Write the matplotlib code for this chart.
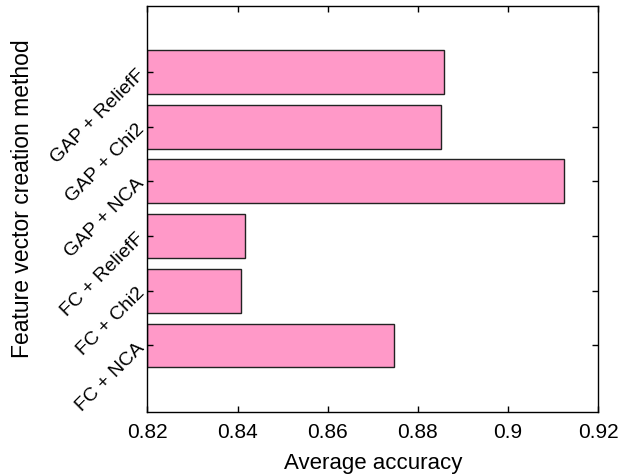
import matplotlib
matplotlib.use("Agg")
import matplotlib.pyplot as plt
import numpy as np

plt.rcParams['font.family'] = ['Liberation Sans', 'DejaVu Sans']

methods = ["FC + NCA", "FC + Chi2", "FC + ReliefF",
           "GAP + NCA", "GAP + Chi2", "GAP + ReliefF"]
accuracy = [0.8746, 0.8407, 0.8416, 0.9123, 0.8851, 0.8858]

pos = np.arange(1, len(methods) + 1)

fig = plt.figure(figsize=(6.25, 4.76), dpi=100)
ax = fig.add_axes([0.2357, 0.1351, 0.7216, 0.8517])

ax.barh(pos, np.array(accuracy) - 0.82, left=0.82, height=0.8,
        color="#ff99c8", edgecolor="#222222", linewidth=1.0)

ax.set_xlim(0.82, 0.92)
ax.set_ylim(-0.21, 7.2)
ax.set_xticks([0.82, 0.84, 0.86, 0.88, 0.9, 0.92])
ax.set_xticklabels(["0.82", "0.84", "0.86", "0.88", "0.9", "0.92"])
ax.set_yticks(pos)
ax.set_yticklabels(methods, rotation=45, ha="right", va="center",
                   rotation_mode="anchor")

ax.tick_params(axis="both", direction="in", length=4, width=1,
               top=True, right=True, labelsize=15, pad=8)
ax.tick_params(axis="y", labelsize=14, pad=4)
for sp in ax.spines.values():
    sp.set_linewidth(1.0)

ax.set_xlabel("Average accuracy", fontsize=16, labelpad=8)
ax.set_ylabel("Feature vector creation method", fontsize=16.5)
ax.yaxis.set_label_coords(-0.251, 0.526)

fig.savefig("out.png", dpi=100)
